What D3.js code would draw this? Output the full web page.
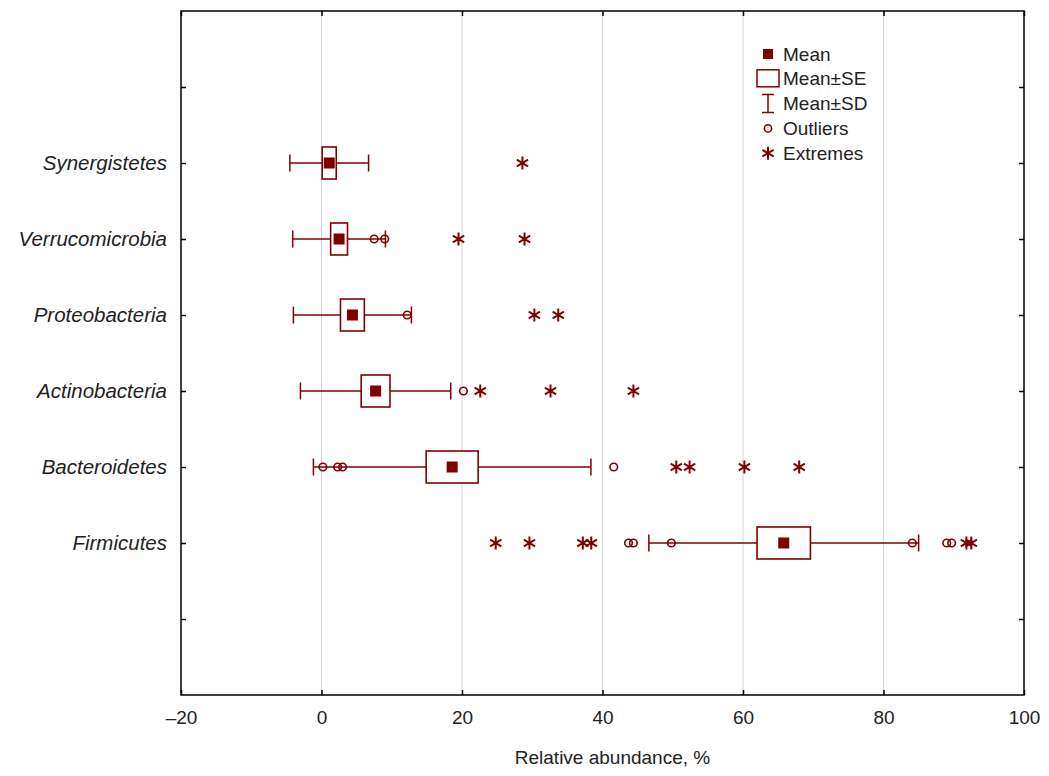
<!DOCTYPE html>
<html lang="en">
<head>
<meta charset="UTF-8">
<title>Relative abundance by phylum</title>
<style>
  body { margin: 0; background: #fff; }
  text { font-family: "Liberation Sans", Arial, sans-serif; fill: #222; }
  .ylab text { font-style: italic; font-size: 20.5px; }
  .xax text { font-size: 19px; }
  .axis path { display: none; }
  .axis line { stroke: #000; stroke-width: 1.5; }
</style>
</head>
<body>
<svg width="1049" height="776"></svg>
<script src="https://d3js.org/d3.v7.min.js"></script>
<script>
// values
var categories = ["Synergistetes", "Verrucomicrobia", "Proteobacteria", "Actinobacteria", "Bacteroidetes", "Firmicutes"];
var means = [1.1, 2.5, 4.4, 7.7, 18.6, 65.8];
var stdErr = [1.0, 1.2, 1.7, 2.05, 3.7, 3.8];
var stdDev = [5.6, 6.6, 8.4, 10.7, 19.75, 19.2];
var outliers = [[], [7.5, 9.0], [12.2], [20.2], [0.2, 2.3, 3.0, 41.6], [43.7, 44.4, 49.8, 84.1, 89.0, 89.7]];
var extremes = [[28.6], [19.5, 28.9], [30.3, 33.7], [22.6, 32.6, 44.4], [50.5, 52.4, 60.2, 68.0], [24.8, 29.6, 37.2, 38.4, 91.8, 92.5]];
var xTicks = [-20, 0, 20, 40, 60, 80, 100];
var gridTicks = [0, 20, 40, 60, 80];
var legendItems = ["Mean", "Mean\u00b1SE", "Mean\u00b1SD", "Outliers", "Extremes"];

var col = "#800000";
var svg = d3.select("svg"),
    margin = {top: 11, right: 25, bottom: 81, left: 181};
var width = +svg.attr("width") - margin.left - margin.right;
var height = +svg.attr("height") - margin.top - margin.bottom;

var g = svg.append("g").attr("transform", "translate(" + margin.left + "," + margin.top + ")");

var x = d3.scaleLinear().domain([-20, 100]).range([0, width]);
// blank slots above and below the categories
var slots = ["top"].concat(categories, ["bottom"]);
var y = d3.scalePoint().domain(slots).range([0, height]).padding(1);

var rows = categories.map(function(c, i) {
  return {name: c, mean: means[i], se: stdErr[i], sd: stdDev[i], out: outliers[i], ext: extremes[i]};
});

// grid
g.selectAll(".grid").data(gridTicks).enter().append("line")
  .attr("x1", function(d) { return x(d); }).attr("x2", function(d) { return x(d); })
  .attr("y1", 0).attr("y2", height)
  .attr("stroke", "#d4d4d4").attr("stroke-width", 1);

// axes (ticks inward on all four sides)
var lab = function(d) { return categories.indexOf(d) >= 0 ? d : ""; };
g.append("g").attr("class", "axis ylab")
  .call(d3.axisLeft(y).tickSize(-5).tickPadding(14).tickFormat(lab));
g.append("g").attr("class", "axis")
  .attr("transform", "translate(" + width + ",0)")
  .call(d3.axisRight(y).tickSize(-5).tickFormat(""));
g.append("g").attr("class", "axis xax")
  .attr("transform", "translate(0," + height + ")")
  .call(d3.axisBottom(x).tickValues(xTicks).tickSize(-5).tickPadding(16).tickFormat(function(d) { return d < 0 ? "\u2013" + Math.abs(d) : d; }));
g.append("g").attr("class", "axis")
  .call(d3.axisTop(x).tickValues(xTicks).tickSize(-5).tickFormat(""));

g.append("rect").attr("width", width).attr("height", height)
  .attr("fill", "none").attr("stroke", "#000").attr("stroke-width", 1.5);

svg.append("text")
  .attr("x", margin.left + width / 2 + 10).attr("y", 764)
  .attr("text-anchor", "middle").style("font-size", "19px")
  .text("Relative abundance, %");

// boxes
var boxH = 32, capH = 17, meanS = 11;
var row = g.selectAll(".row").data(rows).enter().append("g")
  .attr("transform", function(d) { return "translate(0," + y(d.name) + ")"; });

row.append("line")
  .attr("x1", function(d) { return x(d.mean - d.sd); })
  .attr("x2", function(d) { return x(d.mean + d.sd); })
  .attr("stroke", col).attr("stroke-width", 1.5);
row.selectAll(".cap").data(function(d) { return [d.mean - d.sd, d.mean + d.sd]; }).enter().append("line")
  .attr("x1", function(v) { return x(v); }).attr("x2", function(v) { return x(v); })
  .attr("y1", -capH / 2).attr("y2", capH / 2)
  .attr("stroke", col).attr("stroke-width", 1.5);
row.append("rect")
  .attr("x", function(d) { return x(d.mean - d.se); })
  .attr("width", function(d) { return x(d.mean + d.se) - x(d.mean - d.se); })
  .attr("y", -boxH / 2).attr("height", boxH)
  .attr("fill", "#fff").attr("stroke", col).attr("stroke-width", 1.6);
row.append("rect")
  .attr("x", function(d) { return x(d.mean) - meanS / 2; })
  .attr("y", -meanS / 2).attr("width", meanS).attr("height", meanS)
  .attr("fill", col);

row.selectAll(".out").data(function(d) { return d.out; }).enter().append("circle")
  .attr("cx", function(v) { return x(v); }).attr("r", 3.8)
  .attr("fill", "none").attr("stroke", col).attr("stroke-width", 1.6);

var star = d3.symbol().type(d3.symbolAsterisk).size(120);
row.selectAll(".ext").data(function(d) { return d.ext; }).enter().append("path")
  .attr("transform", function(v) { return "translate(" + x(v) + ",0)"; })
  .attr("d", star).attr("fill", "none").attr("stroke", col).attr("stroke-width", 2);

// legend
var leg = svg.append("g").attr("transform", "translate(768,54)");
var item = leg.selectAll(".li").data(legendItems).enter().append("g")
  .attr("transform", function(d, i) { return "translate(0," + (i * 24.8) + ")"; });
item.append("text").attr("x", 15).attr("dy", "0.35em").style("font-size", "19px")
  .text(function(d) { return d; });
item.each(function(d, i) {
  var s = d3.select(this);
  if (i === 0) {
    s.append("rect").attr("x", -5).attr("y", -5).attr("width", 10).attr("height", 10).attr("fill", col);
  } else if (i === 1) {
    s.append("rect").attr("x", -11).attr("y", -9).attr("width", 22).attr("height", 17)
      .attr("fill", "#fff").attr("stroke", col).attr("stroke-width", 1.5);
  } else if (i === 2) {
    s.append("path").attr("d", "M-6,-9H6M0,-9V9M-6,9H6")
      .attr("fill", "none").attr("stroke", col).attr("stroke-width", 1.5);
  } else if (i === 3) {
    s.append("circle").attr("r", 3.6).attr("fill", "none").attr("stroke", col).attr("stroke-width", 1.6);
  } else {
    s.append("path").attr("d", star).attr("fill", "none").attr("stroke", col).attr("stroke-width", 2);
  }
});
</script>
</body>
</html>
